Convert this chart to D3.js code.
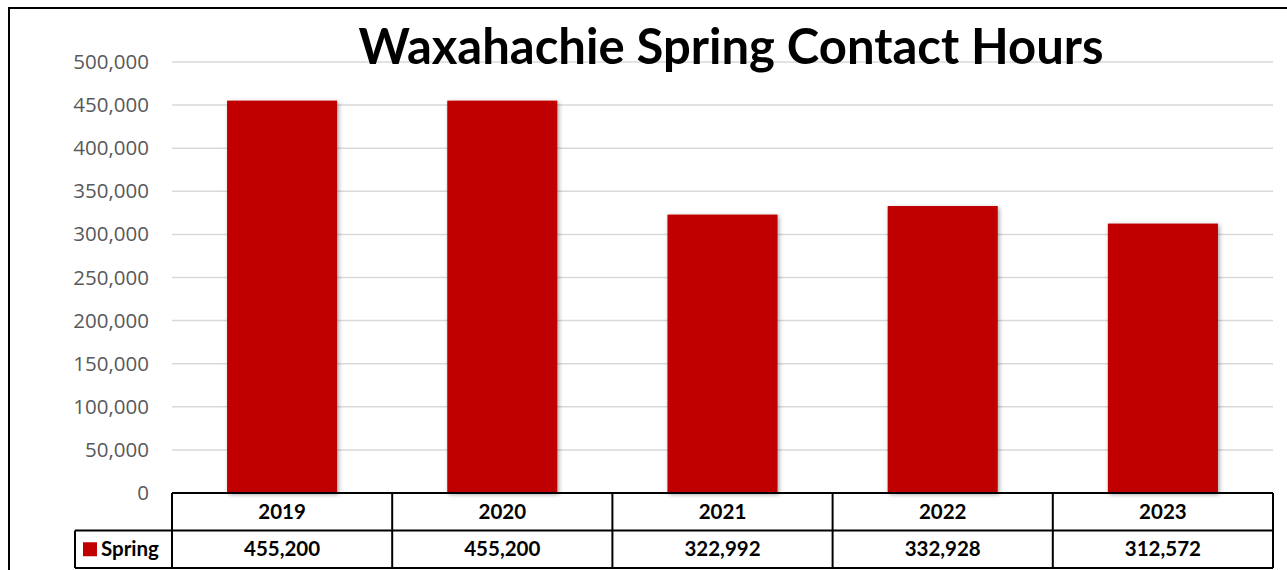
<!DOCTYPE html>
<html>
<head>
<meta charset="utf-8">
<script src="https://cdn.jsdelivr.net/npm/d3@7"></script>
<style>
  body { margin: 0; background: #fff; }
  svg { display: block; }
</style>
</head>
<body>
<svg id="chart" width="1287" height="570"></svg>
<script>
(function () {
    'use strict';

    var years = ['2019', '2020', '2021', '2022', '2023'];
    var springHours = [455200, 455200, 322992, 332928, 312572];
    var yTicks = [0, 50000, 100000, 150000, 200000, 250000, 300000, 350000, 400000, 450000, 500000];
    var seriesName = 'Spring';
    var chartTitle = 'Waxahachie Spring Contact Hours';

    var svg = d3.select('#chart');
    var plotLeft = 172, plotRight = 1273, plotTop = 62, plotBottom = 493;
    var rowH = 37.5;
    var color = '#C00000';

    var defs = svg.append('defs');
    var shadow = defs.append('filter').attr('id', 'shadow')
        .attr('x', '-10%').attr('y', '-10%').attr('width', '130%').attr('height', '130%');
    shadow.append('feDropShadow')
        .attr('dx', 1.5).attr('dy', 1.5).attr('stdDeviation', 2)
        .attr('flood-color', '#000').attr('flood-opacity', 0.35);

    // outer chart border
    svg.append('rect')
        .attr('x', 9).attr('y', 8).attr('width', 1290).attr('height', 580)
        .attr('fill', 'none').attr('stroke', '#000').attr('stroke-width', 2);

    var x = d3.scaleBand().domain(years).range([plotLeft, plotRight]).paddingInner(0.5).paddingOuter(0.25);
    var xCell = d3.scaleBand().domain(years).range([plotLeft, plotRight]);
    var y = d3.scaleLinear().domain([0, 500000]).range([plotBottom, plotTop]);

    // gridlines
    svg.append('g').selectAll('line')
        .data(yTicks.filter(function (d) { return d > 0; }))
        .enter().append('line')
        .attr('x1', plotLeft).attr('x2', plotRight)
        .attr('y1', function (d) { return y(d); })
        .attr('y2', function (d) { return y(d); })
        .attr('stroke', '#d9d9d9').attr('stroke-width', 1.5);

    // y axis labels
    var yAxis = d3.axisLeft(y).tickValues(yTicks).tickSize(0).tickPadding(23)
        .tickFormat(d3.format(','));
    var yg = svg.append('g').attr('transform', 'translate(' + plotLeft + ',0)').call(yAxis);
    yg.select('.domain').remove();
    yg.selectAll('text')
        .style('font-family', '"Open Sans", sans-serif')
        .style('font-size', '20.5px')
        .attr('fill', '#595959');

    // bars
    svg.append('g').selectAll('rect')
        .data(springHours)
        .enter().append('rect')
        .attr('x', function (d, i) { return x(years[i]); })
        .attr('width', x.bandwidth())
        .attr('y', function (d) { return y(d); })
        .attr('height', function (d) { return plotBottom - y(d); })
        .attr('fill', color)
        .attr('filter', 'url(#shadow)');

    // title
    svg.append('text')
        .attr('x', 731).attr('y', 64)
        .attr('text-anchor', 'middle')
        .style('font-family', 'Lato, "Open Sans", sans-serif')
        .style('font-weight', 'bold')
        .style('font-size', '49px')
        .attr('fill', '#000')
        .text(chartTitle);

    // data table
    var table = svg.append('g').attr('class', 'data-table');
    var tableFont = function (sel) {
        sel.style('font-family', 'Lato, "Open Sans", sans-serif')
            .style('font-weight', 'bold')
            .style('font-size', '20.5px')
            .attr('fill', '#000');
    };

    var lines = table.append('g').attr('stroke', '#000').attr('stroke-width', 2);
    lines.append('line').attr('x1', plotLeft).attr('x2', plotRight).attr('y1', plotBottom).attr('y2', plotBottom);
    lines.append('line').attr('x1', 75).attr('x2', plotRight).attr('y1', plotBottom + rowH).attr('y2', plotBottom + rowH);
    lines.append('line').attr('x1', 75).attr('x2', plotRight).attr('y1', plotBottom + 2 * rowH).attr('y2', plotBottom + 2 * rowH);
    lines.append('line').attr('x1', 75).attr('x2', 75).attr('y1', plotBottom + rowH).attr('y2', plotBottom + 2 * rowH);
    lines.selectAll('.vline')
        .data(years.concat(['end']))
        .enter().append('line')
        .attr('class', 'vline')
        .attr('x1', function (d, i) { return i < years.length ? xCell(d) : plotRight; })
        .attr('x2', function (d, i) { return i < years.length ? xCell(d) : plotRight; })
        .attr('y1', plotBottom).attr('y2', plotBottom + 2 * rowH);

    table.selectAll('.cat')
        .data(years)
        .enter().append('text')
        .attr('class', 'cat')
        .attr('x', function (d) { return xCell(d) + xCell.bandwidth() / 2; })
        .attr('y', plotBottom + rowH / 2 + 7)
        .attr('text-anchor', 'middle')
        .call(tableFont)
        .text(function (d) { return d; });

    table.selectAll('.val')
        .data(springHours)
        .enter().append('text')
        .attr('class', 'val')
        .attr('x', function (d, i) { return xCell(years[i]) + xCell.bandwidth() / 2; })
        .attr('y', plotBottom + rowH * 1.5 + 7)
        .attr('text-anchor', 'middle')
        .call(tableFont)
        .text(d3.format(','));

    // legend key in table
    table.append('rect')
        .attr('x', 83).attr('y', plotBottom + rowH * 1.5 - 7)
        .attr('width', 14).attr('height', 14)
        .attr('fill', color);
    table.append('text')
        .attr('x', 101).attr('y', plotBottom + rowH * 1.5 + 7)
        .call(tableFont)
        .text(seriesName);
})();
</script>
</body>
</html>
